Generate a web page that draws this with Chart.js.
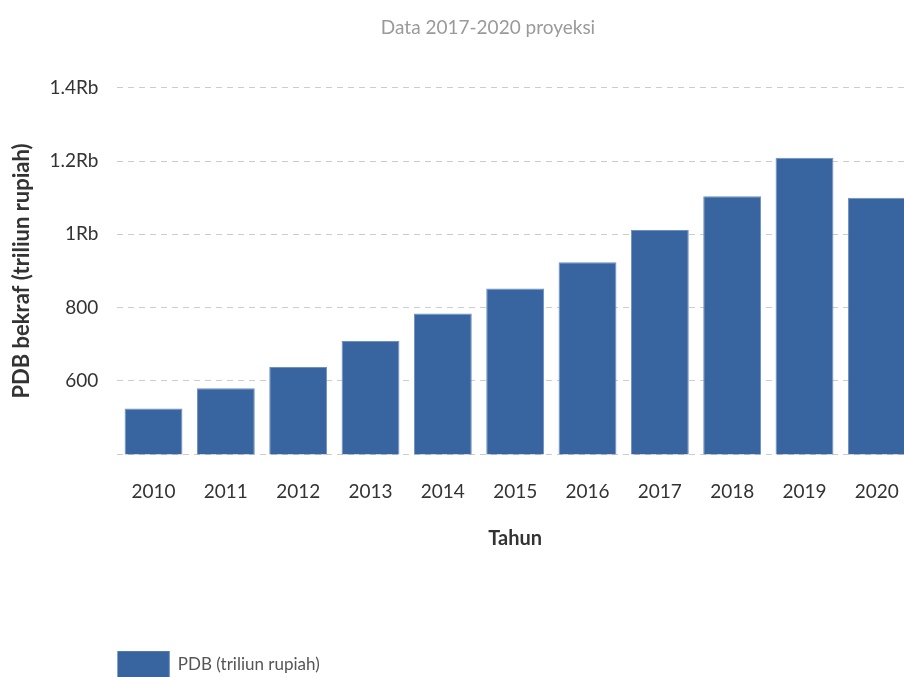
<!DOCTYPE html>
<html>
  <head>
    <title>PDB bekraf</title>
    <script src="https://cdn.jsdelivr.net/npm/chart.js@4/dist/chart.umd.min.js"></script>
    <style>
      html, body { margin: 0; padding: 0; overflow: hidden; background: #fff; }
      #container { width: 976px; height: 700px; }
    </style>
  </head>

  <body>
    <div id="container">
      <canvas id="canvas"></canvas>
    </div>
    <script>
      const years = ['2010', '2011', '2012', '2013', '2014', '2015', '2016', '2017', '2018', '2019', '2020'];
      const pdb = [525, 580, 638, 709, 784, 852, 924, 1012, 1104, 1209, 1100];
      const seriesLabel = 'PDB (triliun rupiah)';

      const barColor = '#38649f';
      const fontFamily = 'Lato, "Open Sans", sans-serif';

      // 400 is the baseline, drawn without a label
      const formatTick = (value) => {
        if (value === 400) return '';
        if (value >= 1000) return (value / 1000) + 'Rb';
        return value;
      };

      // center the title over the whole canvas, not the padded area
      const centerTitle = {
        id: 'centerTitle',
        afterLayout(chart) {
          if (chart.titleBlock) {
            chart.titleBlock.left = 0;
            chart.titleBlock.right = chart.width;
          }
        },
      };

      window.onload = () => {
        const ctx = document.getElementById('canvas').getContext('2d');
        new Chart(ctx, {
          type: 'bar',
          data: {
            labels: years,
            datasets: [
              {
                label: seriesLabel,
                data: pdb,
                backgroundColor: barColor,
                borderColor: '#6d8fc2',
                borderWidth: 1,
                categoryPercentage: 1,
                barPercentage: 0.8,
              },
            ],
          },
          plugins: [centerTitle],
          options: {
            responsive: true,
            maintainAspectRatio: false,
            animation: false,
            layout: { padding: { left: 4, right: 63, top: 16, bottom: 11 } },
            plugins: {
              title: {
                display: true,
                text: 'Data 2017-2020 proyeksi',
                color: '#9a9a9a',
                font: { family: fontFamily, size: 19, weight: 'normal' },
                padding: { top: 0, bottom: 49 },
              },
              legend: {
                position: 'bottom',
                align: 'start',
                fullSize: false,
                labels: {
                  boxWidth: 52,
                  boxHeight: 28,
                  padding: 0,
                  color: '#555',
                  font: { family: fontFamily, size: 17 },
                },
              },
              tooltip: { enabled: false },
            },
            scales: {
              x: {
                grid: { display: false, drawTicks: false },
                border: { display: false },
                ticks: {
                  color: '#333',
                  padding: 26,
                  maxRotation: 0,
                  font: { family: fontFamily, size: 19 },
                },
                title: {
                  display: true,
                  text: 'Tahun',
                  color: '#333',
                  font: { family: fontFamily, size: 20, weight: 'bold' },
                  padding: { top: -2, bottom: 100 },
                },
              },
              y: {
                min: 400,
                max: 1400,
                border: { display: false, dash: [6, 5] },
                grid: { color: '#cccccc', drawTicks: false, lineWidth: 1 },
                ticks: {
                  stepSize: 200,
                  color: '#333',
                  padding: 19,
                  font: { family: fontFamily, size: 19 },
                  callback: formatTick,
                },
                title: {
                  display: true,
                  text: 'PDB bekraf (triliun rupiah)',
                  color: '#333',
                  font: { family: fontFamily, size: 22, weight: 'bold' },
                  padding: { top: 5, bottom: -5 },
                },
              },
            },
          },
        });
      };
    </script>
  </body>
</html>
